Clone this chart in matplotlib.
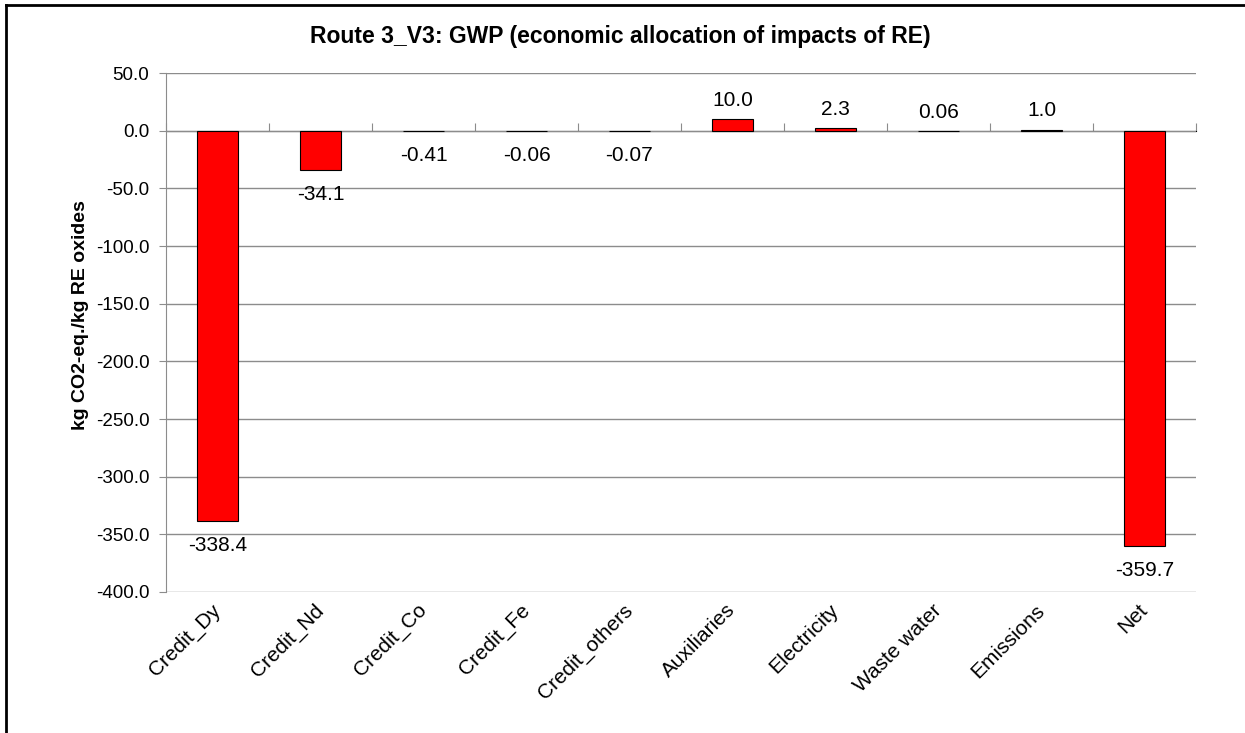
import numpy as np
import matplotlib
matplotlib.use("Agg")
from matplotlib import pyplot as plt
from matplotlib.lines import Line2D

# data
categories = ["Credit_Dy", "Credit_Nd", "Credit_Co", "Credit_Fe", "Credit_others",
              "Auxiliaries", "Electricity", "Waste water", "Emissions", "Net"]
values = [-338.4, -34.1, -0.41, -0.06, -0.07, 10.0, 2.3, 0.06, 1.0, -359.7]
value_labels = ["-338.4", "-34.1", "-0.41", "-0.06", "-0.07",
                "10.0", "2.3", "0.06", "1.0", "-359.7"]
y_ticks = [50, 0, -50, -100, -150, -200, -250, -300, -350, -400]

plt.rcParams["font.family"] = ["Liberation Sans", "DejaVu Sans"]

fig = plt.figure(figsize=(12.45, 7.33), dpi=100)
ax = fig.add_axes([166 / 1245, 1 - 592 / 733, (1196 - 166) / 1245, (592 - 73) / 733])

x = np.arange(len(categories))
ax.bar(x, values, width=0.4, color="#ff0000", edgecolor="black", linewidth=0.8, zorder=3)

# data labels (below negative bars, above positive ones)
for xi, v, lab in zip(x, values, value_labels):
    if v < 0:
        ax.annotate(lab, (xi, v), xytext=(0, -11), textcoords="offset points",
                    ha="center", va="top", fontsize=15)
    else:
        ax.annotate(lab, (xi, v), xytext=(0, 6.5), textcoords="offset points",
                    ha="center", va="bottom", fontsize=15)

ax.set_xlim(-0.5, len(categories) - 0.5)
ax.set_ylim(-400, 50)
ax.set_yticks(y_ticks)
ax.set_yticklabels(["%.1f" % t for t in y_ticks], fontsize=13.5)
ax.yaxis.grid(True, color="#8c8c8c", linewidth=1.0, zorder=0)
ax.set_axisbelow(True)
ax.tick_params(axis="y", length=5, color="#8c8c8c", pad=7)

ax.set_xticks(x)
ax.set_xticklabels(categories, rotation=45, ha="right", va="center",
                   rotation_mode="anchor", fontsize=15)
ax.tick_params(axis="x", length=0, pad=11)

for s in ["top", "right", "bottom"]:
    ax.spines[s].set_visible(False)
ax.spines["left"].set_color("#8c8c8c")

# category axis drawn at zero
sec = ax.secondary_xaxis(400 / 450)
sec.set_xticks(np.arange(len(categories) + 1) - 0.5)
sec.set_xticklabels([])
sec.tick_params(length=6, color="#8c8c8c", direction="out")
sec.spines["bottom"].set_color("#c0c0c0")
sec.spines["bottom"].set_linewidth(2)

ax.set_ylabel("kg CO2-eq./kg RE oxides", fontsize=14, fontweight="bold")
ax.yaxis.set_label_coords((89 - 166) / 1030, 0.534)

fig.text(620 / 1245, 1 - 37 / 733, "Route 3_V3: GWP (economic allocation of impacts of RE)",
         ha="center", va="center", fontsize=16.5, fontweight="bold")

# outer chart border (left and top)
fig.add_artist(Line2D([6 / 1245, 6 / 1245], [0, 1 - 5 / 733], color="black", linewidth=2,
                      transform=fig.transFigure))
fig.add_artist(Line2D([6 / 1245, 1], [1 - 5 / 733, 1 - 5 / 733], color="black", linewidth=2,
                      transform=fig.transFigure))

fig.savefig("out.png", dpi=100)
